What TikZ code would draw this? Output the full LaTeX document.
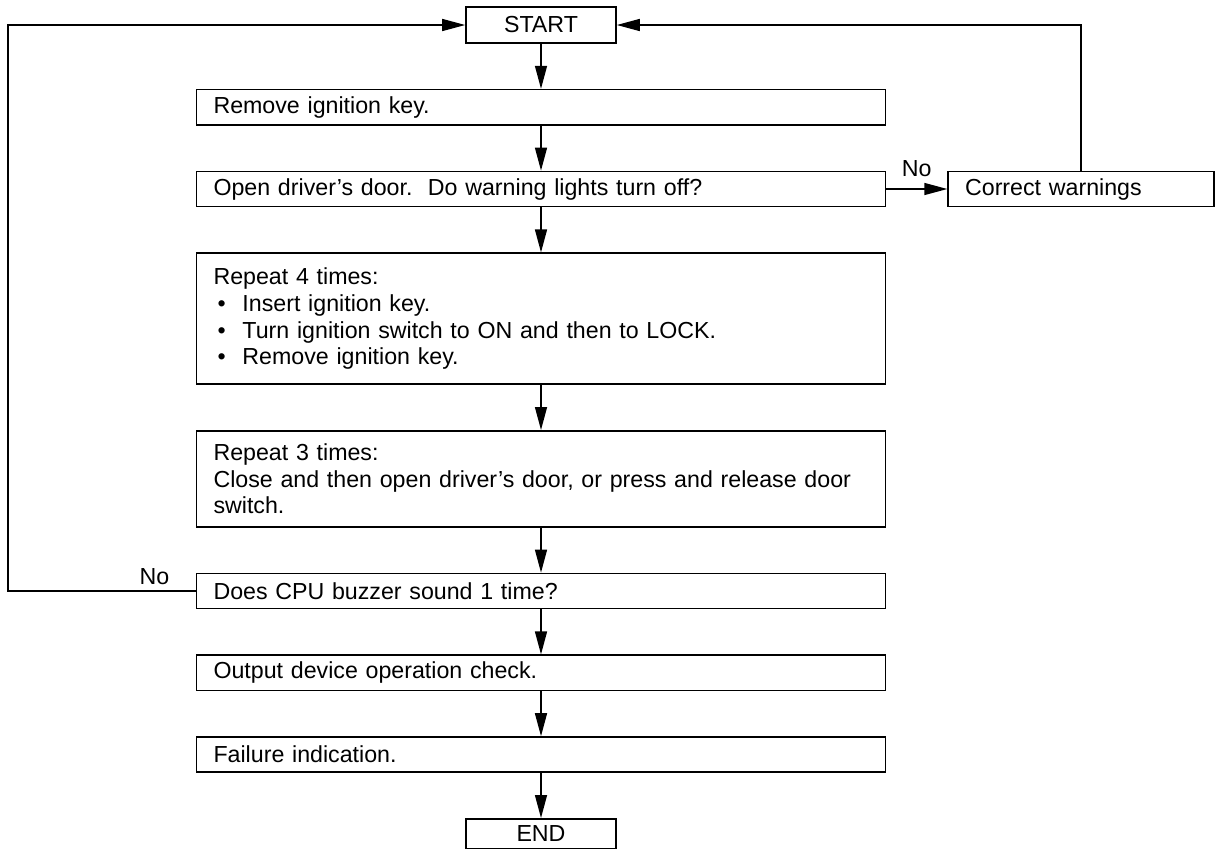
\documentclass[tikz,border=0pt]{standalone}
\usepackage{fontspec}
\setmainfont{Liberation Sans}
\usetikzlibrary{arrows.meta, positioning, calc}
\newcommand{\bulletitem}{\makebox[14.5pt][l]{\hspace{2pt}\textbullet}}

\begin{document}
\begin{tikzpicture}[
    node distance=22.5pt,
    font=\fontsize{11.6pt}{13.4pt}\selectfont,
    stepbox/.style={draw, line width=0.8pt, align=left, text width=327.5pt, inner xsep=8.5pt, inner ysep=2pt, minimum height=17.6pt},
    termbox/.style={draw, line width=0.8pt, minimum width=75pt, minimum height=18pt, inner sep=2pt},
    sidebox/.style={draw, line width=0.8pt, align=left, text width=116pt, inner xsep=8.5pt, inner ysep=2pt, minimum height=17.6pt},
    lbl/.style={inner sep=1pt},
    arr/.style={-{Triangle[length=11.5pt, width=6pt]}, line width=0.7pt}]
  \useasboundingbox (0,0) rectangle (607.5pt,-426pt);
  \node[termbox] (start) at (270.5pt,-12.5pt) {START};
  \node[stepbox, below=of start] (remove) {Remove ignition key.};
  \node[stepbox, below=of remove] (open) {Open driver's door.\ \ Do warning lights turn off?};
  \node[sidebox, right=30.5pt of open] (correct) {Correct warnings};
  \node[stepbox, below=of open, minimum height=65.5pt] (rep4) {Repeat 4 times:\\
    \bulletitem Insert ignition key.\\
    \bulletitem Turn ignition switch to ON and then to LOCK.\\
    \bulletitem Remove ignition key.};
  \node[stepbox, below=of rep4, minimum height=48pt] (rep3) {Repeat 3 times:\\
    Close and then open driver's door, or press and release door\\
    switch.};
  \node[stepbox, below=of rep3] (buzzer) {Does CPU buzzer sound 1 time?};
  \node[stepbox, below=of buzzer] (output) {Output device operation check.};
  \node[stepbox, below=of output] (failure) {Failure indication.};
  \node[termbox, below=of failure, minimum height=14.8pt, inner ysep=1pt] (end) {END};
  \coordinate (lx) at (4pt,0);
  \draw[arr] (start) -- (remove);
  \draw[arr] (remove) -- (open);
  \draw[arr] (open) -- (rep4);
  \draw[arr] (rep4) -- (rep3);
  \draw[arr] (rep3) -- (buzzer);
  \draw[arr] (buzzer) -- (output);
  \draw[arr] (output) -- (failure);
  \draw[arr] (failure) -- (end);
  \draw[arr] (open) -- node[lbl, above=5pt] (nor) {No} (correct);
  \draw[arr] (correct.north) |- (start.east);
  \draw[arr] (buzzer.west) -- node[lbl, above=2pt, pos=0.22] (nol) {No} (buzzer.west -| lx) |- (start.west);
\end{tikzpicture}
\end{document}
